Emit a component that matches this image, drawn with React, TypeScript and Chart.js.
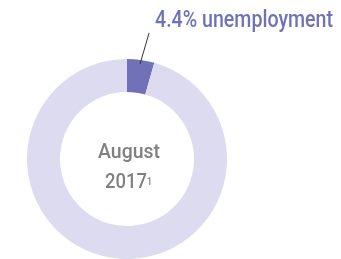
import React, { useEffect, useRef } from "react";
import { Chart, registerables } from "chart.js";

Chart.register(...registerables);

const categories = ["Unemployment", "Other"];
const values = [4.4, 95.6];
const labelText = "4.4% unemployment";
const centerLines = ["August", "2017"];
const footnote = "1";

const FONT = "Roboto, 'DejaVu Sans', sans-serif";

function fitText(ctx: any, text: string, left: number, baseline: number, width: number) {
  const m = ctx.measureText(text).width;
  ctx.save();
  ctx.translate(left, baseline);
  ctx.scale(width / m, 1);
  ctx.textAlign = "left";
  ctx.fillText(text, 0, 0);
  ctx.restore();
}

const labelPlugin = {
  id: "labels",
  afterDraw(chart: any) {
    const ctx = chart.ctx;
    const meta = chart.getDatasetMeta(0);
    const arc = meta.data[0];
    if (!arc) return;
    const { x, y, startAngle, endAngle, outerRadius } = arc.getProps(
      ["x", "y", "startAngle", "endAngle", "outerRadius"],
      true
    );
    const mid = (startAngle + endAngle) / 2;
    const sx = x + Math.cos(mid) * (outerRadius - 5);
    const sy = y + Math.sin(mid) * (outerRadius - 5) - 1;
    ctx.save();
    ctx.strokeStyle = "#333";
    ctx.lineWidth = 1;
    ctx.beginPath();
    ctx.moveTo(sx, sy);
    ctx.lineTo(sx + 9, sy - 31);
    ctx.stroke();

    ctx.fillStyle = "#7171b7";
    ctx.font = `500 24px ${FONT}`;
    ctx.textBaseline = "alphabetic";
    fitText(ctx, labelText, x + 28, y - 132, 178);

    ctx.fillStyle = "#808080";
    ctx.font = `500 21px ${FONT}`;
    fitText(ctx, centerLines[0], x - 29, y - 1, 62);
    fitText(ctx, centerLines[1], x - 22, y + 29, 42);
    ctx.font = `500 11px ${FONT}`;
    fitText(ctx, footnote, x + 20, y + 26, 5);
    ctx.restore();
  },
};

export default function App() {
  const ref = useRef<HTMLCanvasElement>(null);
  useEffect(() => {
    if (!ref.current) return;
    const chart = new Chart(ref.current, {
      type: "doughnut",
      data: {
        labels: categories,
        datasets: [
          {
            data: values,
            backgroundColor: ["#7171b7", "#dcdbef"],
            borderWidth: 0,
          },
        ],
      },
      options: {
        animation: false,
        responsive: false,
        cutout: "67%",
        layout: { padding: { left: 27, right: 114, top: 59, bottom: 0 } },
        plugins: { legend: { display: false }, tooltip: { enabled: false } },
      },
      plugins: [labelPlugin],
    });
    return () => chart.destroy();
  }, []);
  return (
    <div style={{ position: "fixed", left: 0, top: 0, width: 341, height: 259, background: "#fff" }}>
      <canvas ref={ref} width={341} height={259} style={{ width: 341, height: 259 }} />
    </div>
  );
}
